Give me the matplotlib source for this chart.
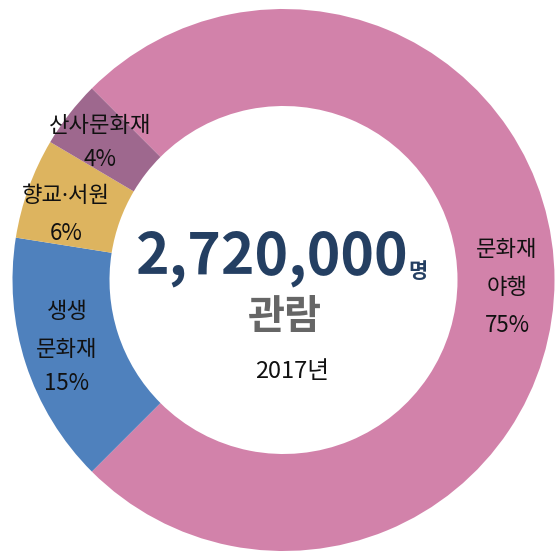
import matplotlib
matplotlib.use("Agg")
import matplotlib.pyplot as plt

plt.rcParams['font.family'] = ['Noto Sans CJK KR', 'DejaVu Sans']

# share of visitors per programme, 2017
categories = ['문화재 야행', '생생 문화재', '향교·서원', '산사문화재']
shares = [75, 15, 6, 4]
colors = ['#D282AA', '#4F81BD', '#DDB45F', '#9E688E']
total_visitors = 2720000
year = 2017

W, H = 557, 551

def py(y):
    # pixel row (from top) -> data y
    return H - y

fig = plt.figure(figsize=(W / 100, H / 100), dpi=100)
ax = fig.add_axes([0, 0, 1, 1])

cx, cy = 283.5, py(280)
r_out, r_in = 271, 174
ax.pie(shares, colors=colors, startangle=135, counterclock=False,
       center=(cx, cy), radius=r_out,
       wedgeprops=dict(width=r_out - r_in, linewidth=0))

ax.set_xlim(0, W)
ax.set_ylim(0, H)
ax.set_aspect('equal')
ax.axis('off')

# slice labels
lab_size = 16
label_lines = {
    '문화재 야행': (507, [(250, '문화재'), (288, '야행'), (325, '75%')]),
    '생생 문화재': (67, [(312, '생생'), (349, '문화재'), (384, '15%')]),
    '향교·서원': (66, [(197, '향교·서원'), (233, '6%')]),
    '산사문화재': (100, [(125, '산사문화재'), (160, '4%')]),
}
for name in categories:
    x, lines = label_lines[name]
    for y, t in lines:
        # latin font first so the middle dot stays narrow
        fam = ['Noto Sans', 'Noto Sans CJK KR'] if '·' in t else None
        ax.text(x, py(y), t, ha='center', va='center', fontsize=lab_size,
                color='#111111', family=fam)

# centre text
navy = '#243F62'
ax.text(272, py(258), f'{total_visitors:,}', ha='center', va='center',
        fontsize=41, fontweight='bold', color=navy)
ax.text(418, py(271), '명', ha='center', va='center',
        fontsize=15, fontweight='bold', color=navy)
ax.text(285, py(318), '관람', ha='center', va='center',
        fontsize=29, fontweight='bold', color='#666666')
ax.text(292, py(372), f'{year}년', ha='center', va='center',
        fontsize=17, color='#111111')

fig.savefig('out.png', dpi=100)
